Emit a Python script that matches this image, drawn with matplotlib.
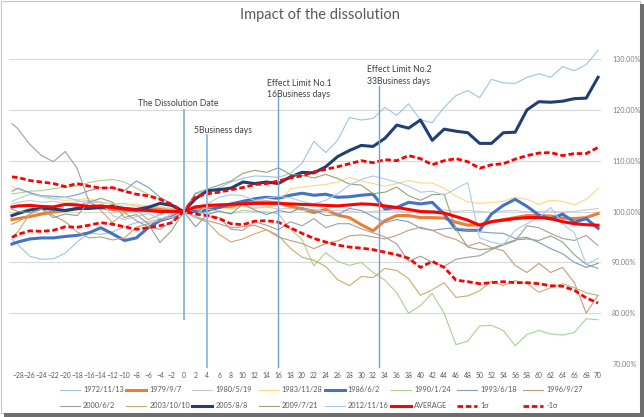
import matplotlib
matplotlib.use("Agg")
import matplotlib.pyplot as plt
from matplotlib.patches import Rectangle
from matplotlib.lines import Line2D

plt.rcParams["font.family"] = ["Lato", "DejaVu Sans"]

# business days relative to the dissolution date
days = [-29] + list(range(-28, 71, 2))

# index level in % (dissolution date = 100)
s1972 = [94.5,
         93.5, 91.2, 90.6, 90.7, 91.8, 94.0, 95.8, 95.5, 96.0, 97.0, 97.8, 98.0, 98.5, 99.4,
         100.0,
         103.5, 104.0, 104.7, 105.8, 106.5, 107.0, 106.9, 106.7, 107.5, 109.5, 113.8, 111.6,
         114.0, 118.5, 118.0, 118.3, 120.5, 118.9, 121.2, 118.0, 117.5, 120.5, 122.8, 123.8,
         122.4, 126.0, 125.3, 125.2, 126.4, 127.1, 126.4, 128.5, 127.7, 128.9, 131.7]
s1979 = [98.4,
         98.6, 99.0, 99.5, 99.9, 100.2, 100.5, 100.8, 100.7, 100.4, 100.2, 100.2, 100.5, 100.6, 100.4,
         100.0,
         100.6, 100.8, 100.9, 101.0, 101.6, 101.8, 101.9, 101.7, 101.0, 100.5, 99.8, 100.4,
         99.3, 98.8, 97.4, 96.2, 98.2, 99.2, 99.2, 98.8, 98.8, 98.7, 97.9, 97.3,
         97.4, 98.0, 98.4, 98.8, 99.2, 99.2, 99.1, 98.7, 98.6, 98.8, 99.6]
s1980 = [101.5,
         101.8, 102.2, 101.8, 102.0, 101.6, 101.9, 102.2, 101.8, 101.5, 101.6, 101.0, 101.2, 100.8, 100.5,
         100.0,
         100.8, 101.2, 101.0, 101.3, 101.0, 100.7, 100.9, 100.5, 100.6, 100.2, 100.4, 100.0,
         100.3, 100.1, 99.8, 100.0, 100.2, 100.1, 99.8, 100.0, 100.2, 100.3, 100.0, 100.2,
         100.0, 99.8, 100.1, 100.2, 99.9, 100.0, 100.1, 99.9, 100.0, 100.3, 100.6]
s1983 = [105.0,
         104.3, 103.8, 102.8, 102.4, 102.2, 102.3, 102.6, 101.8, 101.4, 101.2, 101.5, 100.8, 101.0, 100.6,
         100.0,
         100.4, 100.2, 100.7, 100.5, 101.0, 100.6, 100.9, 101.3, 104.5, 104.8, 105.1, 105.3,
         105.8, 106.7, 106.0, 105.5, 105.0, 105.5, 106.1, 105.6, 105.6, 104.6, 103.0, 101.9,
         101.6, 101.8, 102.0, 102.8, 102.4, 101.4, 102.2, 102.0, 101.3, 102.4, 104.5]
s1986 = [93.6,
         94.0, 94.6, 94.8, 94.8, 95.1, 95.3, 95.8, 96.8, 95.6, 94.3, 94.8, 96.8, 98.2, 98.9,
         100.0,
         100.0, 100.2, 100.8, 101.5, 102.0, 102.5, 102.8, 102.6, 103.2, 103.6, 103.2, 103.4,
         102.8, 102.9, 103.2, 103.4, 100.5, 100.8, 101.8, 101.5, 101.8, 99.5, 96.5, 96.3,
         96.3, 99.5, 101.2, 102.4, 101.0, 99.3, 98.5, 99.5, 97.9, 98.6, 96.7]
s1990 = [103.5,
         103.6, 104.0, 104.1, 104.5, 104.8, 105.0, 105.7, 106.1, 106.3, 105.8, 104.6, 103.4, 102.4, 101.0,
         100.0,
         101.2, 100.5, 100.0, 99.6, 100.2, 100.0, 99.9, 99.6, 96.5, 94.5, 89.3, 91.9,
         90.2, 89.4, 90.0, 88.0, 86.5, 84.0, 80.0, 81.5, 83.9, 80.0, 73.8, 74.5,
         77.5, 77.6, 76.6, 73.6, 75.8, 76.6, 75.9, 75.7, 76.2, 78.9, 78.7]
s1993 = [104.0,
         104.6, 103.7, 103.1, 103.0, 102.8, 103.3, 104.1, 104.7, 104.6, 104.1, 106.0, 104.8, 102.8, 101.5,
         100.0,
         97.0, 99.4, 100.1, 99.5, 101.5, 100.3, 99.4, 100.2, 99.8, 100.8, 100.2, 99.2,
         99.4, 100.6, 100.2, 99.0, 97.8, 98.4, 98.0, 96.7, 96.3, 96.6, 96.8, 96.3,
         96.0, 95.8, 95.7, 94.7, 94.9, 93.9, 92.7, 91.7, 90.0, 89.0, 89.8]
s1996 = [97.5,
         98.0, 99.5, 100.5, 99.2, 98.0, 96.0, 94.8, 95.0, 94.4, 94.8, 96.9, 97.6, 98.2, 98.8,
         100.0,
         99.0, 98.2, 97.6, 96.8, 97.0, 97.3, 96.4, 95.0, 94.3, 93.7, 92.7, 93.7,
         94.2, 95.2, 95.4, 95.0, 94.6, 95.3, 96.3, 96.9, 96.3, 95.2, 94.5, 93.2,
         93.9, 92.9, 92.3, 89.4, 88.0, 89.8, 88.0, 89.0, 86.0, 80.0, 83.5]
s2000 = [117.3,
         116.3, 113.2, 111.0, 109.8, 111.8, 108.5, 102.0, 100.5, 101.4, 99.8, 98.2, 97.0, 96.5, 98.0,
         100.0,
         100.5, 99.2, 98.8, 96.5, 96.3, 98.0, 97.3, 96.4, 98.0, 97.2, 98.6, 96.8,
         97.6, 97.6, 96.6, 95.8, 95.0, 93.6, 90.2, 91.2, 90.0, 89.2, 90.6, 91.0,
         91.3, 92.5, 93.4, 94.2, 97.2, 96.8, 95.7, 94.7, 94.3, 95.3, 93.3]
s2003 = [94.9,
         96.0, 99.5, 100.6, 100.2, 100.0, 101.0, 102.0, 100.2, 97.8, 99.8, 100.3, 98.4, 99.4, 100.5,
         100.0,
         98.8, 97.9, 95.5, 94.0, 94.6, 95.6, 96.4, 95.3, 92.8, 91.0, 90.4, 89.2,
         86.6, 85.4, 87.2, 87.0, 88.8, 88.4, 86.8, 83.5, 84.6, 86.0, 83.1, 83.4,
         84.4, 86.3, 85.4, 86.4, 85.8, 84.1, 85.0, 85.8, 85.0, 84.0, 83.5]
s2005 = [99.2,
         99.6, 100.3, 100.6, 100.5, 100.2, 100.6, 100.6, 100.8, 101.0, 100.6, 100.4, 100.8, 101.6, 101.2,
         100.0,
         102.5, 104.1, 104.3, 104.6, 105.8, 105.5, 105.8, 105.5, 106.8, 107.7, 107.6, 108.8,
         110.8, 112.0, 113.0, 112.8, 114.4, 117.0, 116.4, 118.0, 114.0, 116.2, 115.8, 115.5,
         113.4, 113.4, 115.5, 115.6, 120.0, 121.6, 121.5, 121.7, 122.2, 122.3, 126.4]
s2009 = [100.5,
         100.0, 99.8, 100.5, 98.8, 99.5, 99.2, 101.8, 102.6, 101.8, 98.8, 99.4, 97.6, 93.9, 96.3,
         100.0,
         103.6, 104.4, 105.2, 106.0, 107.5, 108.1, 107.7, 108.6, 107.3, 107.1, 106.6, 107.3,
         106.5, 105.4, 105.2, 103.5, 103.8, 104.8, 103.1, 102.2, 103.3, 103.4, 96.5, 93.0,
         92.5, 92.7, 93.6, 94.4, 94.6, 94.3, 95.2, 94.0, 91.5, 89.6, 88.8]
s2012 = [102.0,
         102.5, 103.4, 103.0, 102.6, 102.8, 102.2, 101.6, 101.9, 99.2, 98.4, 99.0, 99.6, 98.6, 98.9,
         100.0,
         99.0, 101.5, 102.8, 103.3, 103.1, 102.2, 102.6, 103.0, 102.7, 102.0, 101.5, 102.2,
         103.5, 105.2, 106.3, 107.0, 106.4, 105.8, 105.0, 103.8, 104.0, 103.2, 104.5, 105.7,
         94.8, 94.0, 93.5, 96.3, 97.6, 98.8, 100.8, 97.6, 95.8, 89.6, 90.8]
average = [100.9,
           101.1, 101.2, 101.0, 100.9, 101.4, 101.3, 101.0, 101.1, 100.8, 100.5, 100.3, 100.2, 100.0, 100.0,
           100.0,
           100.9, 101.2, 101.3, 101.4, 101.5, 101.6, 101.6, 101.6, 101.5, 101.4, 101.3, 101.2,
           101.1, 101.3, 101.5, 101.4, 101.1, 100.8, 100.4, 100.0, 99.9, 99.7, 99.0, 98.3,
           97.3, 98.0, 98.3, 98.6, 98.8, 98.8, 98.6, 98.0, 97.6, 97.4, 97.3]
sigma_hi = [106.8,
            106.7, 106.1, 105.8, 105.5, 104.9, 105.5, 105.0, 104.6, 104.7, 104.0, 103.4, 103.1, 102.4, 101.4,
            100.0,
            102.9, 103.5, 103.8, 104.3, 104.7, 105.3, 105.5, 106.0, 106.6, 107.0, 107.8, 108.3,
            108.8, 109.4, 110.0, 109.6, 110.2, 110.0, 111.0, 110.4, 109.2, 110.0, 110.4, 109.8,
            108.5, 109.2, 109.4, 110.3, 111.0, 111.5, 111.6, 111.0, 111.4, 111.4, 112.6]
sigma_lo = [94.9,
            95.5, 96.2, 96.1, 96.3, 97.0, 96.9, 97.3, 97.8, 97.5, 97.0, 96.5, 96.8, 97.2, 97.8,
            100.0,
            99.5, 99.2, 98.6, 97.6, 97.4, 98.1, 98.2, 97.9, 96.8, 95.7, 94.7, 94.0,
            93.4, 93.0, 92.8, 92.5, 92.0, 91.5, 90.8, 89.0, 90.2, 89.0, 86.5, 86.2,
            85.8, 86.0, 86.2, 86.0, 86.0, 85.8, 85.4, 85.3, 84.5, 83.0, 82.0]

series = [
    ("1972/11/13", s1972, "#9DC3E6", 0.8, None),
    ("1979/9/7", s1979, "#ED7D31", 2.2, None),
    ("1980/5/19", s1980, "#C9C9C9", 0.8, None),
    ("1983/11/28", s1983, "#FFD780", 0.8, None),
    ("1986/6/2", s1986, "#4472C4", 2.2, None),
    ("1990/1/24", s1990, "#A9D18E", 0.8, None),
    ("1993/6/18", s1993, "#7C9CC0", 0.8, None),
    ("1996/9/27", s1996, "#C8997C", 0.8, None),
    ("2000/6/2", s2000, "#A0A0A0", 0.8, None),
    ("2003/10/10", s2003, "#C9AB6E", 0.8, None),
    ("2005/8/8", s2005, "#203F74", 2.2, None),
    ("2009/7/21", s2009, "#8FA67C", 0.8, None),
    ("2012/11/16", s2012, "#A9CBEC", 0.8, None),
    ("AVERAGE", average, "#FF0000", 2.2, None),
    ("1σ", sigma_hi, "#FF0000", 2.0, (2, 1)),
    ("-1σ", sigma_lo, "#FF0000", 2.0, (2, 1)),
]

W, H = 644, 417
fig = plt.figure(figsize=(W / 100, H / 100), dpi=100)
ax = fig.add_axes([9 / W, 53 / H, 592 / W, 318 / H])

for label, vals, color, lw, dash in series:
    line, = ax.plot(days, vals, color=color, lw=lw, label=label)
    if dash:
        line.set_dashes(dash)

ax.set_xlim(-29.5, 70.5)
ax.set_ylim(70, 132.56)
ax.set_yticks(range(70, 131, 10))
ax.set_yticklabels([f"{v:.2f}%" for v in range(70, 131, 10)])
ax.set_xticks(range(-28, 71, 2))
ax.yaxis.tick_right()
ax.tick_params(axis="y", length=0, pad=8, labelsize=5.1, labelcolor="#7F7F7F")
ax.tick_params(axis="x", length=0, pad=6, labelsize=4.9, labelcolor="#595959")
ax.grid(axis="y", color="#D9D9D9", lw=0.8)
ax.set_axisbelow(True)
for sp in ax.spines.values():
    sp.set_visible(False)

# marker lines and notes
ax.plot([0, 0], [119.9, 78.9], color="#8DB9E2", lw=1.4, clip_on=False)
ax.plot([4, 4], [115.0, 69.5], color="#8DB9E2", lw=1.3, clip_on=False)
ax.plot([16, 16], [122.8, 69.5], color="#6FA3D8", lw=1.0, clip_on=False)
ax.plot([33, 33], [124.6, 69.5], color="#6FA3D8", lw=1.0, clip_on=False)

tcol = "#404040"
fs = 6.25
ax.text(-7.7, 121.25, "The Dissolution Date", fontsize=fs, color=tcol, va="center")
ax.text(1.76, 115.9, "5Business days", fontsize=fs, color=tcol, va="center")
ax.text(14.1, 125.2, "Effect Limit No.1", fontsize=fs, color=tcol, va="center")
ax.text(14.1, 123.0, "16Business days", fontsize=fs, color=tcol, va="center")
ax.text(31.0, 127.9, "Effect Limit No.2", fontsize=fs, color=tcol, va="center")
ax.text(31.0, 125.6, "33Business days", fontsize=fs, color=tcol, va="center")

fig.text(0.497, 1 - 15 / H, "Impact of the dissolution", ha="center", va="center",
         fontsize=10.5, color="#595959")

# legend: 2 rows x 8 fixed-width columns, like the Excel one
for i, (label, vals, color, lw, dash) in enumerate(series):
    x0 = 60 + 66.2 * (i % 8)
    yf = 1 - (390 + 16 * (i // 8)) / H
    h = Line2D([x0 / W, (x0 + 20) / W], [yf, yf], transform=fig.transFigure, color=color, lw=lw)
    if dash:
        h.set_dashes(dash)
    fig.add_artist(h)
    fig.text((x0 + 23) / W, yf, label, fontsize=5.35, color="#595959", va="center")

# frame with a drop shadow
fig.add_artist(Rectangle((0.5 / W, 4.5 / H), 639 / W, 412 / H, transform=fig.transFigure,
                         fill=False, edgecolor="#C8C8C8", lw=0.8))
fig.add_artist(Rectangle((640 / W, 0), 4 / W, 413 / H, transform=fig.transFigure,
                         facecolor="#6E6E6E", edgecolor="none"))
fig.add_artist(Rectangle((4 / W, 0), 640 / W, 4 / H, transform=fig.transFigure,
                         facecolor="#6E6E6E", edgecolor="none"))

fig.savefig("out.png", dpi=100)
